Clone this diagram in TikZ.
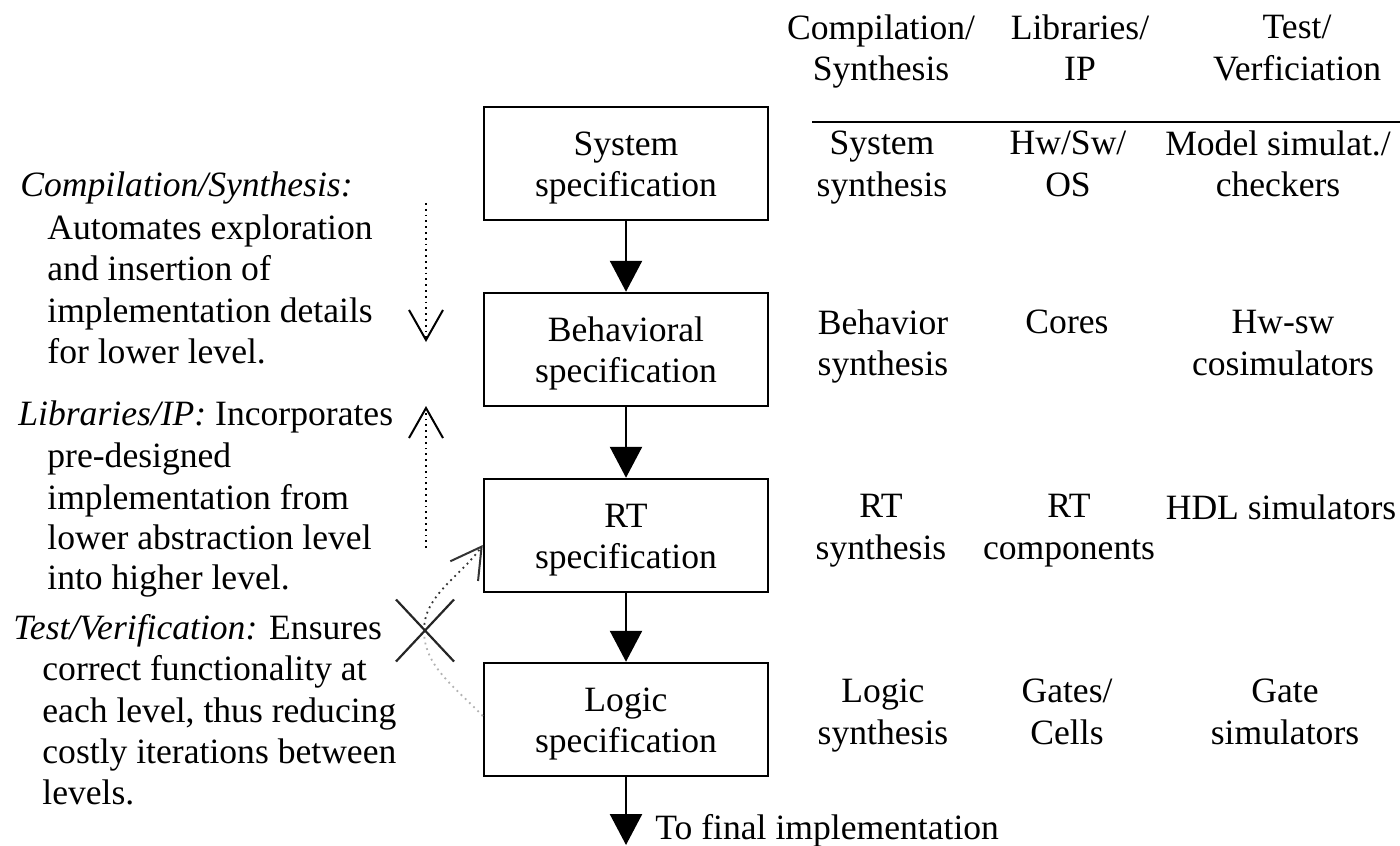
\documentclass[tikz,border=0pt]{standalone}
\usepackage{fontspec}
\setmainfont{Liberation Serif}
\usetikzlibrary{arrows.meta}
\begin{document}
\begin{tikzpicture}[x=0.5pt,y=-0.5pt,
  every node/.style={font=\fontsize{17.8pt}{20.75pt}\selectfont},
  stage/.style={draw, line width=1.25pt, minimum width=142pt, minimum height=56.5pt,
                align=center, inner sep=0pt,
                execute at begin node=\rule{0pt}{39.5pt},
                execute at end node=\strut},
  cell/.style={align=center, inner sep=0pt,
               execute at begin node=\strut, execute at end node=\strut},
  txtline/.style={anchor=base west, inner sep=0pt},
  flow/.style={line width=1.25pt, -{Triangle[length=15.5pt,width=16pt]}},
  barb/.style={-{Straight Barb[length=15pt,width=17pt,line width=1pt]}},
  hint/.style={dotted, line width=0.9pt, barb},
]
\useasboundingbox (0,0) rectangle (1400,845);

% design levels
\node[stage] (sys)   at (626,163.5) {System\\specification};
\node[stage] (beh)   at (626,349.5) {Behavioral\\specification};
\node[stage] (rt)    at (626,535.5) {RT\\specification};
\node[stage] (logic) at (626,719.5) {Logic\\specification};
\coordinate (out) at (626,845);

\draw[flow] (sys) -- (beh);
\draw[flow] (beh) -- (rt);
\draw[flow] (rt) -- (logic);
\draw[flow] (logic) -- (out);
\node[txtline] (final) at (655,839) {To final implementation};

% table header and rule
\node[cell] (hc) at (881,54)  {Compilation/\\Synthesis};
\node[cell] (hl) at (1080,54) {Libraries/\\IP};
\node[cell] (ht) at (1297,54) {Test/\\Verficiation};
\coordinate (ruleL) at (812,122);
\coordinate (ruleR) at (1400,122);
\draw[line width=1pt] (ruleL) -- (ruleR);

% table rows
\node[cell] (c1) at (882,170)  {System\\synthesis};
\node[cell] (l1) at (1068,170) {Hw/Sw/\\OS};
\node[cell] (t1) at (1278,170) {Model simulat./\\checkers};

\node[cell] (c2) at (883,349)  {Behavior\\synthesis};
\node[cell] (l2) at (1067,325) {Cores};
\node[cell] (t2) at (1283,349) {Hw-sw\\cosimulators};

\node[cell] (c3) at (881,533)  {RT\\synthesis};
\node[cell] (l3) at (1069,533) {RT\\components};
\node[cell] (t3) at (1281,511) {HDL simulators};

\node[cell] (c4) at (883,718)  {Logic\\synthesis};
\node[cell] (l4) at (1067,718) {Gates/\\Cells};
\node[cell] (t4) at (1285,718) {Gate\\simulators};

% explanations on the left
\node[txtline] (a1) at (20,197)  {\textit{Compilation/Synthesis:}};
\node[txtline] (a2) at (47,239)  {Automates exploration};
\node[txtline] (a3) at (47,280)  {and insertion of};
\node[txtline] (a4) at (47,322)  {implementation details};
\node[txtline] (a5) at (47,363)  {for lower level.};

\node[txtline] (b1) at (18,425)  {\textit{Libraries/IP:} Incorporates};
\node[txtline] (b2) at (47,467)  {pre-designed};
\node[txtline] (b3) at (47,509)  {implementation from};
\node[txtline] (b4) at (47,549)  {lower abstraction level};
\node[txtline] (b5) at (47,589)  {into higher level.};

\node[txtline] (v1) at (13,639)  {\textit{Test/Verification:} Ensures};
\node[txtline] (v2) at (42,680)  {correct functionality at};
\node[txtline] (v3) at (42,722)  {each level, thus reducing};
\node[txtline] (v4) at (42,763)  {costly iterations between};
\node[txtline] (v5) at (42,804)  {levels.};

% direction hints
\coordinate (csTop) at (426,203);
\coordinate (csTip) at (426,342);
\draw[hint] (csTop) -- (csTip);
\coordinate (libBot) at (426,548);
\coordinate (libTip) at (426,406);
\draw[hint] (libBot) -- (libTip);

% iteration across levels, crossed out
\coordinate (cross) at (424,630.5);
\draw[dotted, line width=0.9pt, black!30]
  ([yshift=1.75pt]logic.west) .. controls (454,686) and (424,666) .. (cross);
\draw[dotted, line width=0.9pt, black!80, barb]
  (cross) .. controls (424,595) and (460,577) .. ([yshift=-4.75pt]rt.west);
\draw[line width=1.1pt, black!85]
  ([shift={(-28,-31)}]cross) -- ([shift={(30,31)}]cross)
  ([shift={(30,-31)}]cross) -- ([shift={(-28,31)}]cross);
\end{tikzpicture}
\end{document}
